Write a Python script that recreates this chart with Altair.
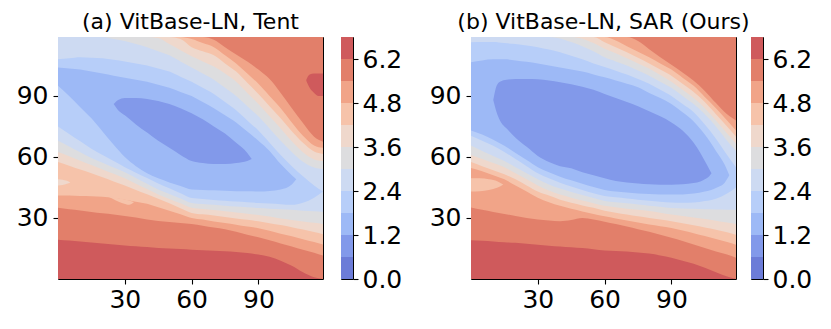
import altair as alt
import pandas as pd

# ---------------- data ----------------
# u = x position (0..119), v = y position (0..119); each region is the set of
# points whose level band is <= the band number, bounded below/above by curves.
U_FULL = [0, 5, 10, 15, 20, 25, 30, 35, 40, 45, 50, 55, 60, 65, 70, 75, 80, 85, 90, 95, 100, 105, 110, 115, 119]
TOP = 119

# ---- panel (a) Tent: lower boundaries (band k below / k-1 above)
A_B10 = [19.3, 18.9, 18.4, 18.0, 17.5, 17.0, 16.5, 16.1, 15.7, 15.3, 15.0, 14.7, 14.4, 14.1, 13.9, 13.6, 13.3, 12.8, 12.0, 10.9, 9.0, 6.5, 3.3, 0.8, 0.0]
A_B9 = [35.0, 34.3, 33.7, 33.0, 32.3, 31.7, 31.0, 30.2, 29.3, 28.5, 28.0, 27.5, 27.0, 26.2, 25.3, 24.5, 23.2, 21.8, 20.5, 19.0, 17.5, 16.0, 14.4, 12.9, 11.5]
A_B8 = [41.0, 41.0, 40.8, 40.7, 40.5, 39.8, 39.0, 38.0, 37.0, 35.3, 33.5, 31.8, 30.0, 29.2, 28.3, 27.5, 26.7, 25.8, 25.0, 23.7, 22.3, 21.0, 19.6, 18.2, 17.0]
A_B7 = [57.5, 55.7, 53.8, 52.0, 50.0, 48.0, 46.0, 43.8, 41.7, 39.5, 37.2, 34.8, 32.5, 31.8, 31.2, 30.5, 29.8, 29.1, 28.4, 27.4, 26.5, 25.5, 24.3, 23.1, 22.0]
A_B6 = [62.4, 60.3, 58.1, 56.0, 53.8, 51.7, 49.5, 46.8, 44.2, 41.5, 39.3, 37.2, 35.0, 34.4, 33.9, 33.3, 32.7, 32.1, 31.5, 30.7, 29.8, 29.0, 28.3, 27.6, 27.0]
A_B5 = [68.0, 65.2, 62.3, 59.5, 57.2, 54.8, 52.5, 49.7, 46.8, 44.0, 41.8, 39.6, 37.4, 36.9, 36.5, 36.0, 35.6, 35.3, 34.9, 34.6, 34.3, 34.0, 33.6, 33.3, 33.0]
A_B4 = [75.0, 71.3, 67.7, 64.0, 61.0, 58.0, 55.0, 52.3, 49.7, 47.0, 44.6, 42.2, 39.8, 39.4, 38.9, 38.5, 38.1, 37.8, 37.4, 37.1, 36.8, 36.5, 37.5, 40.0, 43.0]
# upper boundaries (band k-1 below / k above)
A_U4 = [108.0, 108.5, 109.0, 108.8, 108.5, 107.8, 107.0, 106.0, 105.0, 103.5, 102.0, 99.5, 97.0, 94.0, 91.0, 87.0, 83.0, 78.0, 73.0, 67.0, 61.0, 55.5, 50.5, 46.0, 43.0]
A_U5 = [119, 119, 119, 119, 119, 118.0, 117.0, 115.5, 114.0, 112.0, 110.0, 107.0, 104.0, 101.0, 98.0, 94.0, 90.0, 85.0, 80.0, 74.0, 68.0, 62.5, 57.7, 54.8, 54.0]
A_U6 = [119, 119, 119, 119, 119, 119, 119, 119, 119, 118.5, 115.5, 112.5, 109.5, 107.0, 104.5, 101.0, 97.0, 91.5, 86.0, 80.0, 74.0, 67.7, 62.3, 58.8, 58.0]
A_U7 = [119, 119, 119, 119, 119, 119, 119, 119, 119, 119, 119, 118.0, 114.0, 112.0, 110.0, 106.0, 102.0, 96.5, 91.0, 85.0, 79.0, 72.7, 67.0, 62.7, 61.5]
A_U8 = [119, 119, 119, 119, 119, 119, 119, 119, 119, 119, 119, 119, 118.0, 116.0, 114.0, 110.0, 106.0, 101.0, 96.0, 90.0, 84.0, 77.0, 70.5, 65.7, 64.5]
A_U9 = [119, 119, 119, 119, 119, 119, 119, 119, 119, 119, 119, 119, 119, 119, 117.6, 114.0, 110.4, 107.0, 103.0, 98.3, 91.5, 84.0, 76.7, 70.0, 67.5]
# band <= 2 region
A_R2_U = [0, 5, 10, 15, 20, 25, 30, 35, 40, 45, 50, 55, 60, 65, 70, 75, 80, 85, 90, 95, 100, 105, 107]
A_B3 = [95, 90, 84.5, 79, 72.5, 66, 60, 55.5, 52, 49.5, 47.5, 45.7, 44, 43.8, 43.6, 43.4, 43.2, 43.1, 43.0, 43.3, 44.0, 46.5, 49.0]
A_U3 = [104, 103.5, 103, 102, 101, 100, 99, 98, 97, 95.5, 94, 92, 90, 87, 84, 80.5, 77, 72.5, 68, 63, 56.5, 51, 49.0]
# band 1 (minimum) ellipse
A_E_U = [25, 27, 30, 35, 40, 45, 50, 55, 60, 65, 70, 75, 80, 85, 87]
A_E_LO = [86, 83, 80.5, 76, 72, 68, 64.5, 61, 58, 57, 56.5, 56.5, 57, 58, 59]
A_E_HI = [86, 88, 89, 89, 88.5, 87.5, 86, 84, 81.5, 78.5, 75, 71.5, 67, 62, 59]
# small patches
A_P10_U = [111.5, 113, 115, 117, 119]
A_P10_LO = [97.5, 94, 91.5, 90, 90]
A_P10_HI = [98, 100.5, 101, 101, 101]
A_P6_U = [0, 2, 4, 5.5]
A_P6_LO = [46, 46.2, 46.8, 47.5]
A_P6_HI = [49, 48.8, 48.3, 47.5]
A_P7_U = [23, 26, 29, 32, 34]
A_P7_LO = [40.3, 38.6, 37.3, 36.5, 37.6]
A_P7_HI = [40.6, 40.0, 39.3, 38.6, 37.9]

# ---- panel (b) SAR
B_B10 = [19.0, 18.8, 18.5, 18.1, 17.8, 17.3, 16.8, 16.4, 16.0, 15.6, 15.2, 14.6, 14.0, 13.8, 13.5, 13.0, 12.5, 11.6, 10.5, 9.0, 7.5, 5.5, 3.3, 1.2, 0.0]
B_B9 = [35.2, 34.0, 33.0, 32.0, 31.0, 30.0, 29.3, 28.8, 28.4, 29.0, 30.0, 29.2, 28.2, 27.0, 25.8, 24.5, 23.2, 21.8, 20.3, 18.7, 17.0, 15.2, 13.5, 12.0, 10.4]
B_B8 = [54.6, 53.0, 51.0, 49.0, 46.0, 43.0, 40.0, 37.8, 36.0, 34.5, 33.2, 32.0, 30.8, 29.8, 28.8, 27.8, 26.8, 26.0, 25.1, 23.8, 22.5, 21.1, 19.7, 18.2, 16.9]
B_B7 = [57.5, 55.5, 53.5, 51.5, 49.0, 46.0, 43.0, 41.0, 39.0, 37.5, 36.2, 35.0, 33.5, 32.6, 31.7, 30.8, 30.0, 29.2, 28.4, 27.4, 26.4, 25.3, 24.2, 23.0, 21.8]
B_B6 = [61.0, 59.0, 57.0, 55.0, 52.0, 49.0, 46.0, 43.5, 41.5, 40.0, 38.6, 37.3, 36.0, 35.3, 34.6, 34.0, 33.4, 32.6, 31.7, 31.0, 30.2, 29.5, 28.7, 27.8, 27.0]
B_B5 = [65.6, 63.0, 60.5, 58.0, 55.0, 52.0, 49.0, 46.5, 44.5, 42.8, 41.3, 39.8, 38.4, 37.8, 37.2, 36.6, 36.0, 35.5, 34.9, 34.7, 34.5, 34.3, 34.2, 34.1, 34.0]
B_B4 = [70.5, 68.0, 65.5, 62.5, 59.0, 55.5, 52.0, 49.5, 47.3, 45.5, 43.8, 42.2, 40.8, 40.2, 39.6, 39.0, 38.5, 38.0, 37.6, 37.5, 37.6, 38.3, 39.5, 42.0, 45.0]
B_U4 = [116.4, 116.5, 116.5, 116.0, 115.5, 114.8, 114.0, 112.8, 111.5, 109.8, 108.0, 106.0, 104.2, 102.4, 100.5, 98.3, 96.0, 93.0, 90.0, 86.0, 82.0, 76.0, 69.0, 61.0, 55.0]
B_U5 = [119, 119, 119, 119, 119, 119, 119, 119, 118.3, 116.5, 114.5, 112.0, 109.0, 107.0, 105.0, 102.5, 100.0, 97.0, 94.0, 90.0, 86.0, 81.0, 75.0, 68.0, 63.0]
B_U6 = [119, 119, 119, 119, 119, 119, 119, 119, 119, 119, 118.2, 116.0, 113.2, 111.0, 108.5, 106.0, 103.5, 100.3, 97.0, 93.0, 89.0, 84.0, 78.0, 71.5, 66.5]
B_U7 = [119, 119, 119, 119, 119, 119, 119, 119, 119, 119, 119, 119, 116.4, 114.0, 111.5, 108.8, 106.0, 103.0, 100.0, 96.0, 92.0, 87.0, 81.0, 75.0, 70.0]
B_U8 = [119, 119, 119, 119, 119, 119, 119, 119, 119, 119, 119, 119, 119, 117.3, 114.5, 111.8, 109.0, 106.0, 103.0, 99.0, 95.0, 89.5, 84.0, 78.0, 73.0]
B_U9 = [119, 119, 119, 119, 119, 119, 119, 119, 119, 119, 119, 119, 119, 119, 119, 117.0, 113.0, 109.0, 105.3, 101.5, 97.5, 92.5, 86.5, 81.0, 78.0]
B_R2_U = [0, 5, 10, 15, 20, 25, 30, 35, 40, 45, 50, 55, 60, 65, 70, 75, 80, 85, 90, 95, 100, 105, 110, 114, 116]
B_B3 = [73, 71, 68.5, 65.5, 62, 58.5, 55, 52.5, 50.3, 48.5, 46.8, 45.2, 43.8, 43.0, 42.5, 42.1, 41.8, 41.6, 41.5, 41.6, 42.0, 43.0, 44.8, 47.5, 51.0]
B_U3 = [106.6, 107.5, 108, 108, 107.5, 106.8, 106, 105, 104, 103, 102, 100.6, 99.2, 97.6, 96, 94.3, 91.5, 89, 86, 82, 77.5, 71, 63, 56, 51]
B_E_U = [10, 11.5, 13, 16, 20, 25, 30, 35, 40, 45, 50, 55, 60, 65, 70, 75, 80, 85, 90, 95, 100, 103, 105, 107, 108]
B_E_LO = [88, 82, 78, 74, 69.5, 65, 60.5, 57.5, 55.5, 54.5, 52.5, 51, 49.5, 48.2, 47.5, 47, 46.6, 46.4, 46.4, 46.6, 47.2, 48, 49, 50.5, 52]
B_E_HI = [88, 95, 97, 98, 98.3, 98.4, 98.2, 97.6, 96.8, 95.8, 94.5, 93, 91, 89, 87, 85, 82.5, 80, 77, 73, 67, 62, 58, 54, 52]
B_P7_U = [0, 4, 8, 12, 14.5]
B_P7_LO = [43, 43.2, 43.8, 45, 46.5]
B_P7_HI = [49.5, 49.5, 49, 48, 46.5]

# ---- colour bar
BAND_COLORS = ["#6C7CD8", "#8299EA", "#9DB9F6", "#B7CEF9", "#CDDAF2", "#DDDDDF",
               "#EFD8CC", "#F6C3AA", "#F1A488", "#E27F6A", "#CF5A5C"]
LEVEL_EDGES = [0.0, 0.6, 1.2, 1.8, 2.4, 3.0, 3.6, 4.2, 4.8, 5.4, 6.0, 6.6]
CBAR_TICKS = [0.0, 1.2, 2.4, 3.6, 4.8, 6.0]
CBAR_LABELS = ["0.0", "1.2", "2.4", "3.6", "4.8", "6.2"]
AXIS_TICKS = [30, 60, 90]
TITLES = ["(a) VitBase-LN, Tent", "(b) VitBase-LN, SAR (Ours)"]

FONT = "DejaVu Sans"
LABEL_SIZE = 25
TITLE_SIZE = 22
PLOT_W, PLOT_H = 265, 242
CBAR_W = 12

color_enc = alt.Color("band:O", scale=alt.Scale(domain=list(range(11)), range=BAND_COLORS), legend=None)


def region_df(us, lo, hi, band):
    return pd.DataFrame({"u": us, "lo": lo, "hi": hi, "band": [band] * len(us)})


def panel(regions, title):
    xenc = alt.X("u:Q", scale=alt.Scale(domain=[0, TOP], nice=False, zero=False),
                 axis=alt.Axis(values=AXIS_TICKS, labelFontSize=LABEL_SIZE, labelFont=FONT,
                               labelColor="black", tickColor="black", tickSize=5, tickWidth=1.1,
                               labelPadding=3, domain=False, grid=False),
                 title=None)
    yenc = alt.Y("lo:Q", scale=alt.Scale(domain=[0, TOP], nice=False, zero=False),
                 axis=alt.Axis(values=AXIS_TICKS, labelFontSize=LABEL_SIZE, labelFont=FONT,
                               labelColor="black", tickColor="black", tickSize=5, tickWidth=1.1,
                               labelPadding=5, domain=False, grid=False, minExtent=44, maxExtent=44),
                 title=None, stack=None)
    bg = alt.Chart(pd.DataFrame({"u": [0], "u2": [TOP], "lo": [0], "hi": [TOP], "band": [10]})).mark_rect().encode(
        x=xenc, x2="u2:Q", y=yenc, y2="hi:Q", color=color_enc)
    layers = [bg]
    for us, lo, hi, band in regions:
        layers.append(
            alt.Chart(region_df(us, lo, hi, band)).mark_area(interpolate="monotone", clip=True, orient="vertical")
            .encode(x=xenc, y=yenc, y2="hi:Q", color=color_enc))
    return alt.layer(*layers).properties(
        width=PLOT_W, height=PLOT_H,
        title=alt.TitleParams(title, fontSize=TITLE_SIZE, font=FONT, fontWeight="normal",
                              color="black", offset=3, anchor="middle"))


def colorbar():
    df = pd.DataFrame({"band": list(range(11)), "lo": LEVEL_EDGES[:-1], "hi": LEVEL_EDGES[1:]})
    expr = "''"
    for t, lab in reversed(list(zip(CBAR_TICKS, CBAR_LABELS))):
        expr = f"abs(datum.value - {t}) < 0.01 ? '{lab}' : ({expr})"
    return alt.Chart(df).mark_rect().encode(
        x=alt.value(0), x2=alt.value(CBAR_W),
        y=alt.Y("lo:Q", scale=alt.Scale(domain=[LEVEL_EDGES[0], LEVEL_EDGES[-1]], nice=False, zero=False),
                axis=alt.Axis(orient="right", values=CBAR_TICKS, labelExpr=expr, labelFontSize=LABEL_SIZE,
                              labelFont=FONT, labelColor="black", tickColor="black", tickSize=5,
                              tickWidth=1.1, labelPadding=4, domain=False, grid=False,
                              minExtent=50, maxExtent=50),
                title=None),
        y2="hi:Q", color=color_enc,
    ).properties(width=CBAR_W, height=PLOT_H,
                 title=alt.TitleParams(" ", fontSize=TITLE_SIZE, font=FONT, offset=3))


T = [TOP] * len(U_FULL)
regions_a = [
    (U_FULL, A_B10, T, 9),
    (U_FULL, A_B9, A_U9, 8),
    (U_FULL, A_B8, A_U8, 7),
    (A_P7_U, A_P7_LO, A_P7_HI, 7),
    (U_FULL, A_B7, A_U7, 6),
    (A_P6_U, A_P6_LO, A_P6_HI, 6),
    (U_FULL, A_B6, A_U6, 5),
    (U_FULL, A_B5, A_U5, 4),
    (U_FULL, A_B4, A_U4, 3),
    (A_R2_U, A_B3, A_U3, 2),
    (A_E_U, A_E_LO, A_E_HI, 1),
    (A_P10_U, A_P10_LO, A_P10_HI, 10),
]
regions_b = [
    (U_FULL, B_B10, T, 9),
    (U_FULL, B_B9, B_U9, 8),
    (U_FULL, B_B8, B_U8, 7),
    (B_P7_U, B_P7_LO, B_P7_HI, 7),
    (U_FULL, B_B7, B_U7, 6),
    (U_FULL, B_B6, B_U6, 5),
    (U_FULL, B_B5, B_U5, 4),
    (U_FULL, B_B4, B_U4, 3),
    (B_R2_U, B_B3, B_U3, 2),
    (B_E_U, B_E_LO, B_E_HI, 1),
]

# panel (b)'s title is wider than its plot and overhangs it by ~18 px on the right,
# so the gap before its colour bar is reduced accordingly
left = alt.hconcat(panel(regions_a, TITLES[0]), colorbar(), spacing=16)
right = alt.hconcat(panel(regions_b, TITLES[1]), colorbar(), spacing=-2)
chart = (alt.hconcat(left, right, spacing=22)
         .properties(padding={"left": 5, "top": 2, "right": 5, "bottom": 2})
         .configure_view(stroke="black", strokeWidth=1))

chart.save("out.html", embed_options={"renderer": "svg", "actions": False})
